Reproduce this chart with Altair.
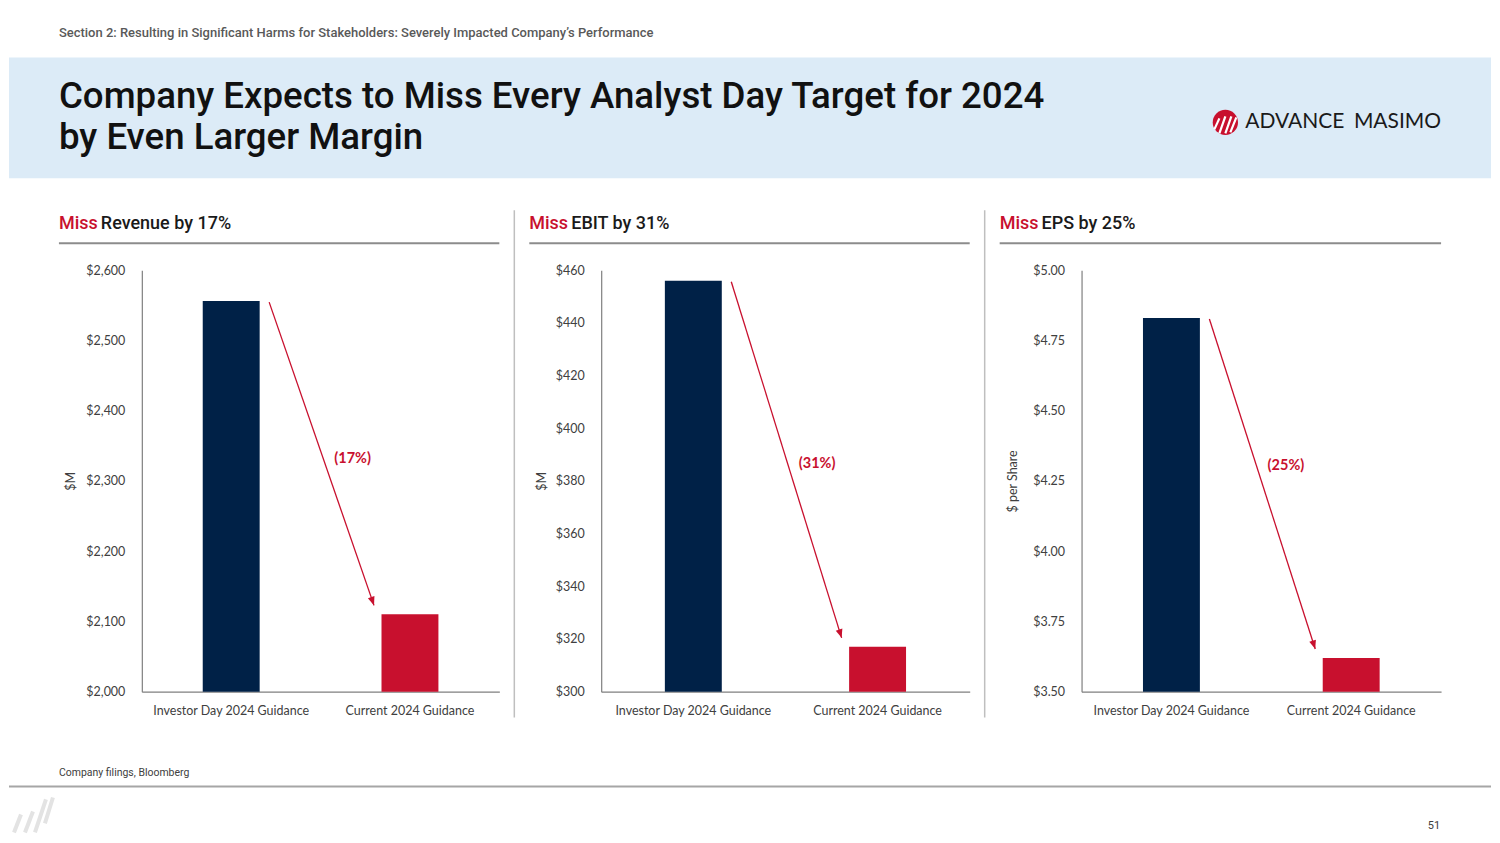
import math
import altair as alt
import pandas as pd

# ---------------- data ----------------
categories = ["Investor Day 2024 Guidance", "Current 2024 Guidance"]
revenue = [2556, 2110]
ebit = [456, 317]
eps = [4.83, 3.62]
series = [revenue, ebit, eps]
miss_labels = ["(17%)", "(31%)", "(25%)"]
panel_metrics = ["Revenue by 17%", "EBIT by 31%", "EPS by 25%"]
y_titles = ["$M", "$M", "$ per Share"]
y_domains = [[2000, 2600], [300, 460], [3.5, 5.0]]
y_ticks = [
    [2000, 2100, 2200, 2300, 2400, 2500, 2600],
    [300, 320, 340, 360, 380, 400, 420, 440, 460],
    [3.5, 3.75, 4.0, 4.25, 4.5, 4.75, 5.0],
]
y_formats = ["$,.0f", "$,.0f", "$.2f"]

section_text = "Section 2: Resulting in Significant Harms for Stakeholders: Severely Impacted Company\u2019s Performance"
title_line1 = "Company Expects to Miss Every Analyst Day Target for 2024"
title_line2 = "by Even Larger Margin"
source_text = "Company filings, Bloomberg"
page_number = "51"

# ---------------- style ----------------
NAVY = "#002147"
RED = "#c8102e"
DARK = "#1a1a1a"
AXIS_GRAY = "#7f7f7f"
TEXT_GRAY = "#404040"
BAND_BLUE = "#dcebf7"
W = 1484
H = 422
HEAD_H = 262
panel_w = [358, 369, 360]
title_x = [-83, -72, -82]
ytitle_x = [-71, -60, -69]
label_t = [0.51, 0.506, 0.44]
X_OFF, X2_OFF, Y_OFF, Y2_OFF = 38, -36, 1, -9
ARROW_PATH = "M0,0 L-0.4,-1 L0.4,-1 Z"

one = pd.DataFrame({"k": [0]})


def panel(i):
    vals = series[i]
    df = pd.DataFrame({"cat": categories, "value": vals})
    adf = pd.DataFrame({"a": [categories[0]], "b": [categories[1]],
                        "v1": [vals[0]], "v2": [vals[1]], "label": [miss_labels[i]]})
    lo, hi = y_domains[i]
    xs = alt.Scale(domain=categories, paddingInner=0, paddingOuter=0)
    ys = alt.Scale(domain=[lo, hi], nice=False, zero=False)
    bw = panel_w[i] / 2
    dx = bw + X2_OFF - X_OFF
    dy = (vals[0] - vals[1]) * H / (hi - lo) + Y2_OFF - Y_OFF
    phi = math.degrees(math.atan2(dx, dy))
    angle = (360 - phi) % 360

    base = alt.Chart(df)
    bars = base.mark_bar(width=57).encode(
        x=alt.X("cat:N", scale=xs, sort=None,
                axis=alt.Axis(title=None, labelAngle=0, ticks=False, domainColor=AXIS_GRAY,
                              domainWidth=1.2, labelPadding=13, labelFont="Lato",
                              labelFontSize=12.5, labelColor=TEXT_GRAY)),
        y=alt.Y("value:Q", scale=ys,
                axis=alt.Axis(values=y_ticks[i], format=y_formats[i], grid=False, ticks=False,
                              domainColor=AXIS_GRAY, domainWidth=1.2, labelPadding=17,
                              labelFont="Lato", labelFontSize=12.5, labelColor=TEXT_GRAY,
                              title=y_titles[i], titleX=ytitle_x[i], titleY=H / 2,
                              titleAngle=270, titleAlign="center", titleBaseline="middle",
                              titleFont="Lato", titleFontSize=12.5, titleFontWeight="normal",
                              titleColor=TEXT_GRAY)),
        y2=alt.datum(lo),
        color=alt.Color("cat:N", scale=alt.Scale(domain=categories, range=[NAVY, RED]), legend=None),
    )
    ach = alt.Chart(adf)
    arrow = ach.mark_rule(color=RED, strokeWidth=1.3, xOffset=X_OFF, x2Offset=X2_OFF,
                          yOffset=Y_OFF, y2Offset=Y2_OFF).encode(
        x=alt.X("a:N", scale=xs, sort=None), x2="b:N", y=alt.Y("v1:Q", scale=ys), y2="v2:Q")
    head = ach.mark_point(shape=ARROW_PATH, filled=True, color=RED, opacity=1, size=300,
                          angle=angle, xOffset=X2_OFF, yOffset=Y2_OFF).encode(
        x=alt.X("b:N", scale=xs, sort=None), y=alt.Y("v2:Q", scale=ys))
    t = label_t[i]
    label = ach.mark_text(color=RED, font="Lato", fontSize=14.5, fontWeight="bold",
                          align="center", baseline="middle",
                          dx=X_OFF + t * dx + 30, dy=Y_OFF + t * dy + 2).encode(
        x=alt.X("a:N", scale=xs, sort=None), y=alt.Y("v1:Q", scale=ys), text="label:N")

    oc = alt.Chart(one)
    miss = oc.mark_text(text="Miss", color=RED, font="Roboto", fontSize=18, fontWeight=500,
                        align="left", baseline="middle").encode(
        x=alt.value(title_x[i]), y=alt.value(-46))
    rest = oc.mark_text(text=panel_metrics[i], color=DARK, font="Roboto", fontSize=18,
                        fontWeight=500, align="left", baseline="middle").encode(
        x=alt.value(title_x[i] + 42), y=alt.value(-46))
    uline = oc.mark_rule(color="#8c8c8c", strokeWidth=2).encode(
        x=alt.value(title_x[i]), x2=alt.value(panel_w[i]), y=alt.value(-27))

    return alt.layer(bars, arrow, head, label, miss, rest, uline).properties(
        width=panel_w[i], height=H)


def spacer(w, sep=False):
    oc = alt.Chart(one)
    if sep:
        m = oc.mark_rule(color="#bfbfbf", strokeWidth=1.5).encode(
            x=alt.value(15), y=alt.value(-60), y2=alt.value(448))
    else:
        m = oc.mark_rule(opacity=0).encode(x=alt.value(0), y=alt.value(0), y2=alt.value(1))
    return m.properties(width=w, height=H)


# ---------------- header + page furniture ----------------
oc = alt.Chart(one)
band = oc.mark_rect(color=BAND_BLUE).encode(
    x=alt.value(0), x2=alt.value(W), y=alt.value(49), y2=alt.value(170))
sec = oc.mark_text(text=section_text, font="Roboto", fontSize=13, fontWeight=500,
                   color="#595959", align="left", baseline="middle").encode(
    x=alt.value(50), y=alt.value(24))
t1 = oc.mark_text(text=title_line1, font="Roboto", fontSize=36.7, fontWeight=500, color="#111111",
                  align="left", baseline="middle").encode(x=alt.value(50), y=alt.value(89))
t2 = oc.mark_text(text=title_line2, font="Roboto", fontSize=36.7, fontWeight=500, color="#111111",
                  align="left", baseline="middle").encode(x=alt.value(50), y=alt.value(130))
circ = oc.mark_point(shape="circle", filled=True, color=RED, opacity=1, size=640).encode(
    x=alt.value(1218), y=alt.value(114))
stripe_layers = []
for (xa, ya, xb, yb) in [(1207, 121, 1212, 110), (1212, 125, 1218, 108),
                         (1218, 125, 1224, 108), (1223, 124, 1229, 109)]:
    stripe_layers.append(oc.mark_rule(color="white", strokeWidth=2.2).encode(
        x=alt.value(xa), y=alt.value(ya), x2=alt.value(xb), y2=alt.value(yb)))
adv = oc.mark_text(text="ADVANCE", font="Lato", fontSize=21, color="#1a1a1a",
                   align="left", baseline="middle").encode(x=alt.value(1238), y=alt.value(114))
mas = oc.mark_text(text="MASIMO", font="Lato", fontSize=21, color="#1a1a1a",
                   align="right", baseline="middle").encode(x=alt.value(1434), y=alt.value(114))

src = oc.mark_text(text=source_text, font="Roboto", fontSize=10.5, color=TEXT_GRAY,
                   align="left", baseline="middle").encode(x=alt.value(50), y=alt.value(765))
fline = oc.mark_rule(color="#a6a6a6", strokeWidth=2).encode(
    x=alt.value(0), x2=alt.value(W), y=alt.value(779))
pnum = oc.mark_text(text=page_number, font="Roboto", fontSize=11, color=TEXT_GRAY,
                    align="right", baseline="middle").encode(x=alt.value(1433), y=alt.value(819))
slashes = []
for (xa, ya, xb, yb) in [(44, 790, 36, 816), (37, 792, 26, 825), (24, 804, 16, 825), (12, 807, 5, 825)]:
    slashes.append(oc.mark_rule(color="#e3e3e3", strokeWidth=4).encode(
        x=alt.value(xa), y=alt.value(ya), x2=alt.value(xb), y2=alt.value(yb)))

header = alt.layer(band, sec, t1, t2, circ, *stripe_layers, adv, mas,
                   src, fline, pnum, *slashes).properties(width=W, height=HEAD_H)

# ---------------- body ----------------
body = alt.hconcat(
    spacer(133), panel(0), spacer(102, True), panel(1), spacer(112, True), panel(2),
    spacing=0, bounds="flush")

chart = alt.vconcat(header, body, spacing=0, bounds="flush").properties(
    padding=0, background="white"
).configure_view(strokeWidth=0)

chart.save("out.html", embed_options={"renderer": "svg", "actions": False})
